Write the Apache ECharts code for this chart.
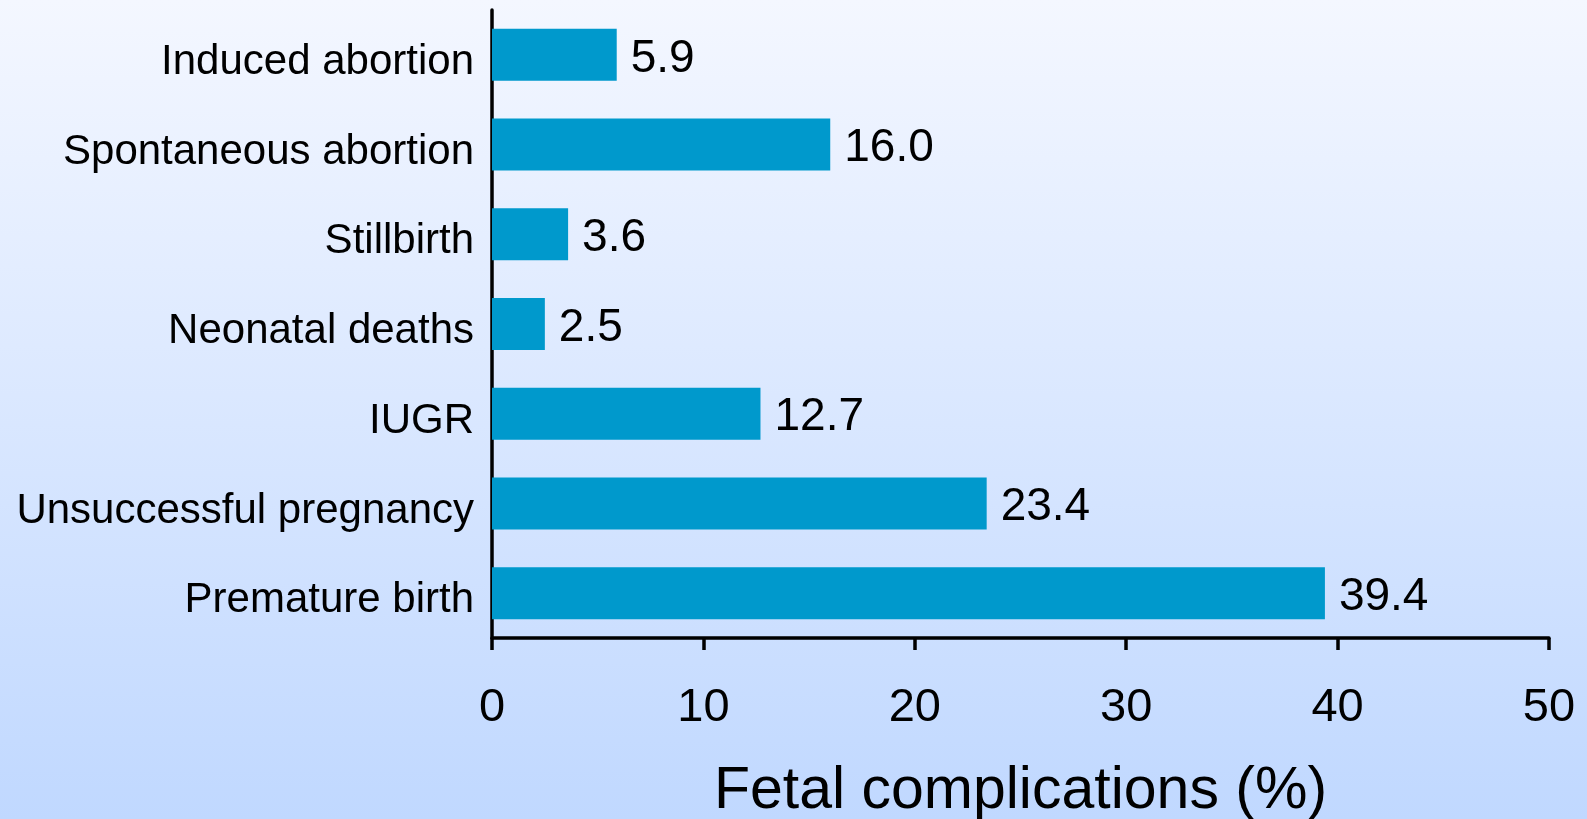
<!DOCTYPE html>
<html>
<head>
<meta charset="utf-8">
<script src="https://cdn.jsdelivr.net/npm/echarts@6/dist/echarts.min.js"></script>
<style>
html,body{margin:0;padding:0;width:1587px;height:819px;overflow:hidden;}
#chart{width:1587px;height:819px;}
</style>
</head>
<body>
<div id="chart"></div>
<script>
const categories = ["Induced abortion", "Spontaneous abortion", "Stillbirth", "Neonatal deaths", "IUGR", "Unsuccessful pregnancy", "Premature birth"];
const values = [5.9, 16.0, 3.6, 2.5, 12.7, 23.4, 39.4];
const xTicks = [0, 10, 20, 30, 40, 50];
const axisTitle = "Fetal complications (%)";

const FONT = '"Liberation Sans", Arial, Helvetica, sans-serif';
const chart = echarts.init(document.getElementById('chart'));
chart.setOption({
  backgroundColor: {
    type: 'linear', x: 0, y: 0, x2: 0, y2: 1,
    colorStops: [{offset: 0, color: '#f4f7ff'}, {offset: 1, color: '#c0d8ff'}]
  },
  animation: false,
  grid: {left: 492, right: 38, top: 10, bottom: 181, containLabel: false, outerBoundsMode: 'none'},
  xAxis: {
    type: 'value',
    min: xTicks[0], max: xTicks[xTicks.length - 1], interval: 10,
    splitLine: {show: false},
    axisLine: {show: true, lineStyle: {color: '#000', width: 3.5}},
    axisTick: {show: true, inside: false, length: 12, lineStyle: {color: '#000', width: 3.5}},
    axisLabel: {color: '#000', fontSize: 47, fontFamily: FONT, margin: 47},
    name: axisTitle,
    nameLocation: 'middle',
    nameGap: 124,
    nameTextStyle: {color: '#000', fontSize: 59, fontFamily: FONT}
  },
  yAxis: {
    type: 'category',
    data: categories,
    inverse: true,
    axisLine: {show: true, lineStyle: {color: '#000', width: 3.5}},
    axisTick: {show: false},
    axisLabel: {color: '#000', fontSize: 42, fontFamily: FONT, margin: 18, verticalAlign: 'top', lineHeight: 15}
  },
  series: [{
    type: 'bar',
    data: values,
    barCategoryGap: '42%',
    itemStyle: {color: '#0099cc'},
    label: {
      show: true, position: 'right', distance: 14, offset: [0, 4],
      formatter: p => p.value.toFixed(1),
      color: '#000', fontSize: 46, fontFamily: FONT
    }
  }]
});
</script>
</body>
</html>
